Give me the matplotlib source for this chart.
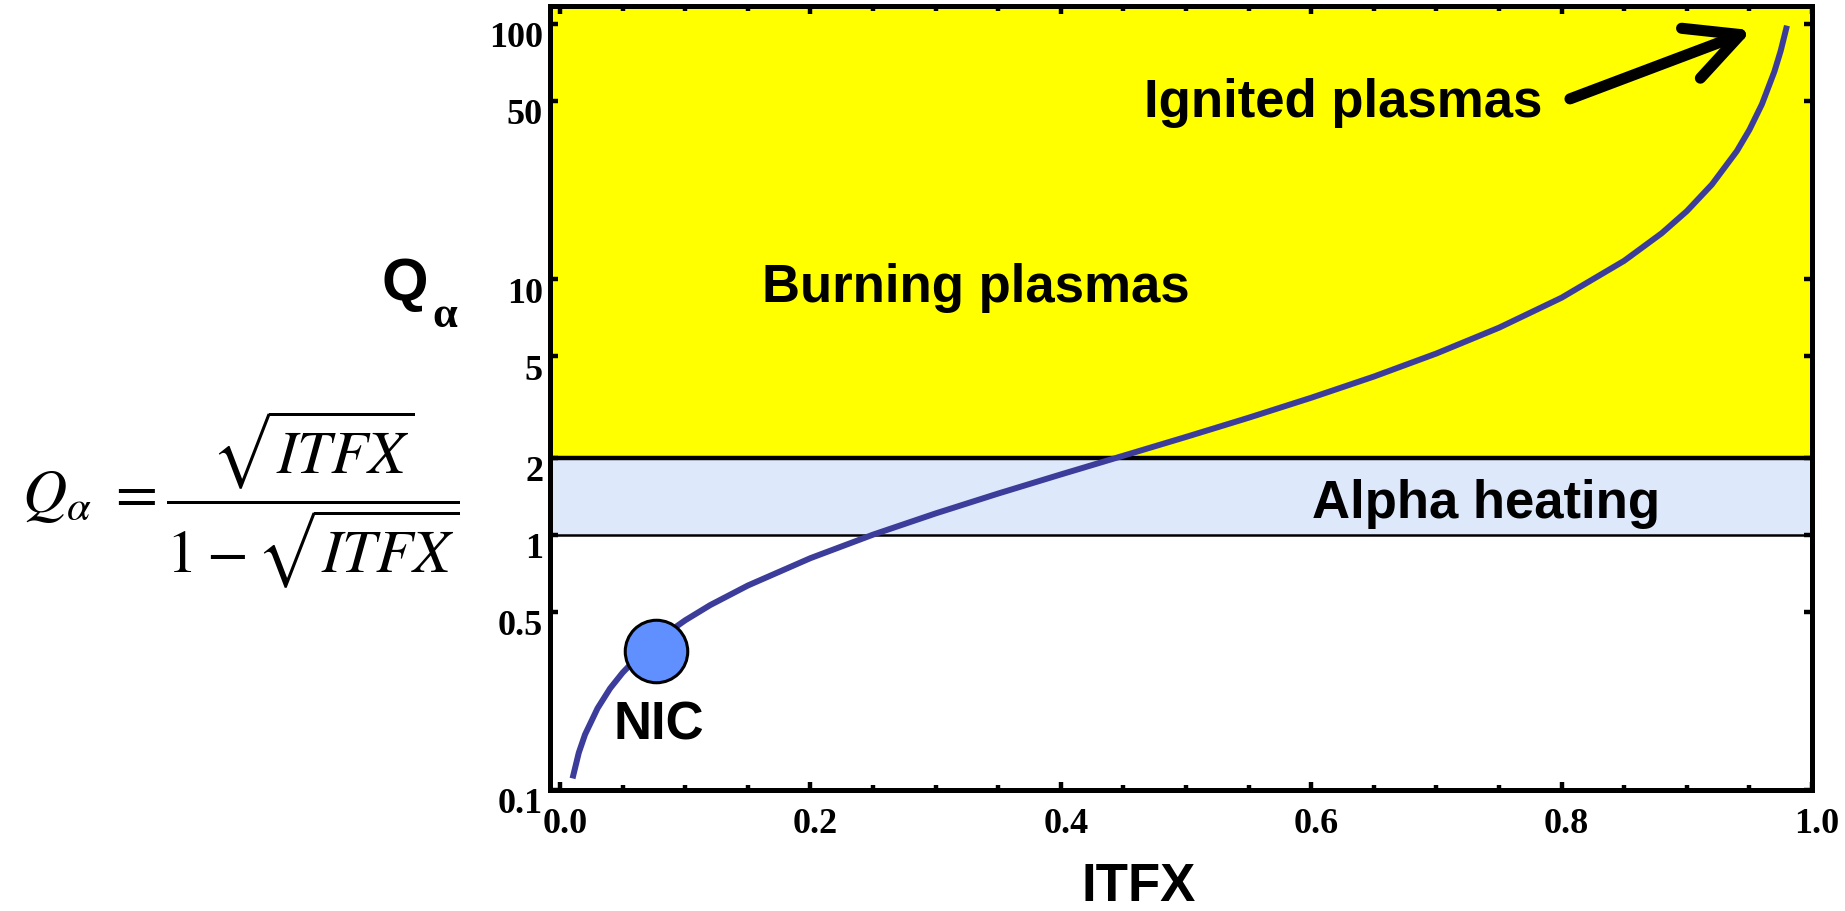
import matplotlib
matplotlib.use("Agg")
import matplotlib.pyplot as plt
from matplotlib.transforms import ScaledTranslation
import numpy as np

# ---- data ----
itfx = [0.010, 0.015, 0.02, 0.03, 0.04, 0.05, 0.06, 0.08, 0.10, 0.12, 0.15,
        0.20, 0.25, 0.30, 0.35, 0.40, 0.45, 0.50, 0.55, 0.60, 0.65, 0.70,
        0.75, 0.80, 0.85, 0.88, 0.90, 0.92, 0.94, 0.95, 0.96, 0.97, 0.975, 0.98]
q_alpha = [0.111, 0.140, 0.165, 0.209, 0.250, 0.288, 0.324, 0.394, 0.462, 0.530, 0.632,
           0.809, 1.000, 1.211, 1.449, 1.721, 2.038, 2.414, 2.870, 3.437, 4.160, 5.123,
           6.464, 8.472, 11.82, 15.16, 18.49, 23.50, 31.8, 38.5, 48.5, 65.2, 78.5, 98.5]

nic_x = [0.077]
nic_q = [0.349]

alpha_band = (1, 2)
burning_min = 2

x_ticks = [0.0, 0.2, 0.4, 0.6, 0.8, 1.0]
x_tick_labels = ["0.0", "0.2", "0.4", "0.6", "0.8", "1.0"]
y_ticks = [0.1, 0.5, 1, 2, 5, 10, 50, 100]
y_tick_labels = ["0.1", "0.5", "1", "2", "5", "10", "50", "100"]

# ---- figure ----
W, H, DPI = 1845, 912, 100
fig = plt.figure(figsize=(W / DPI, H / DPI), dpi=DPI)
ax = fig.add_axes([550 / W, 1 - 791 / H, (1812 - 550) / W, (791 - 7) / H])

ax.set_xlim(-0.008, 1.0)
ax.set_yscale("log")
ax.set_ylim(0.1, 117.6)

# regions
ax.axhspan(burning_min, 1000, color="#ffff00", zorder=0, lw=0)
ax.axhspan(alpha_band[0], alpha_band[1], color="#dde8fb", zorder=0, lw=0)
ax.axhline(burning_min, color="black", lw=3.2, zorder=1)
ax.axhline(alpha_band[0], color="black", lw=1.8, zorder=1)

# curve
ax.plot(itfx, q_alpha, color="#3c3c9b", lw=4.3, zorder=3, solid_capstyle="butt")

# NIC point
ax.plot(nic_x, nic_q, "o", ms=45, mfc="#6090ff", mec="black", mew=2.2, zorder=4)

sans = "Liberation Sans"
serif = "Liberation Serif"
fs = 38
ax.text(0.332, 9.33, "Burning plasmas", fontsize=fs, fontweight="bold",
        family=sans, ha="center", va="center", zorder=5)
ax.text(0.6254, 49.3, "Ignited plasmas", fontsize=fs, fontweight="bold",
        family=sans, ha="center", va="center", zorder=5)
ax.text(0.7396, 1.336, "Alpha heating", fontsize=fs, fontweight="bold",
        family=sans, ha="center", va="center", zorder=5)
ax.text(0.079, 0.180, "NIC", fontsize=fs, fontweight="bold",
        family=sans, ha="center", va="center", zorder=5)

# arrow
ax.annotate("", xy=(0.952, 94.5), xytext=(0.8067, 50.9),
            arrowprops=dict(arrowstyle="->,head_length=0.95,head_width=0.48",
                            lw=8, color="black", mutation_scale=40,
                            shrinkA=0, shrinkB=0, capstyle="round",
                            joinstyle="round"),
            zorder=6)

# ticks
ax.set_xticks(x_ticks)
ax.set_xticklabels(x_tick_labels)
ax.set_xticks(np.arange(0, 1.0001, 0.05), minor=True)
ax.set_yticks(y_ticks)
ax.set_yticklabels(y_tick_labels)
ax.yaxis.set_minor_locator(matplotlib.ticker.NullLocator())

ax.tick_params(which="major", direction="in", length=6, width=3.2,
               top=True, right=True, labelsize=26)
ax.tick_params(which="minor", direction="in", length=3.8, width=3.2,
               top=True, right=True)
ax.tick_params(axis="x", which="major", pad=12)
ax.tick_params(axis="y", which="major", pad=5)

for lab in ax.get_xticklabels() + ax.get_yticklabels():
    lab.set_family(serif)
    lab.set_fontweight("bold")
for lab in ax.get_yticklabels():
    lab.set_transform(lab.get_transform() + ScaledTranslation(0, -0.10, fig.dpi_scale_trans))
for lab in ax.get_xticklabels():
    lab.set_transform(lab.get_transform() + ScaledTranslation(0.05, 0, fig.dpi_scale_trans))

for sp in ax.spines.values():
    sp.set_linewidth(3.6)
    sp.set_zorder(7)

# axis labels
fig.text(1139 / W, 1 - 887 / H, "ITFX", fontsize=fs, fontweight="bold",
         family=sans, ha="center", va="center")
fig.text(405 / W, 1 - 285 / H, "Q", fontsize=43, fontweight="bold",
         family=sans, ha="center", va="center")
fig.text(445 / W, 1 - 316 / H, "α", fontsize=32, fontweight="bold",
         family=serif, ha="center", va="center")

# formula
plt.rcParams["mathtext.fontset"] = "stix"
fig.text(22 / W, 1 - 500 / H,
         r"$Q_{\alpha}\ =\dfrac{\sqrt{ITFX}}{1-\sqrt{ITFX}}$",
         fontsize=44, ha="left", va="center")

fig.savefig("out.png", dpi=DPI)
